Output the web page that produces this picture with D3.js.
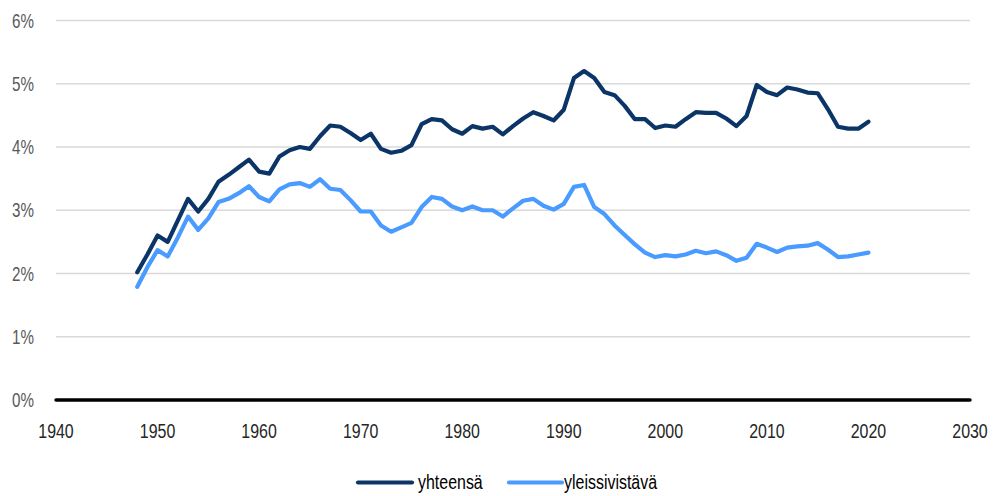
<!DOCTYPE html>
<html><head><meta charset="utf-8">
<script src="https://cdn.jsdelivr.net/npm/d3@7"></script>
<style>
body{margin:0;background:#fff;}
text{font-family:"Liberation Sans",Arial,sans-serif;}
</style></head><body>
<svg id="c" width="994" height="496"></svg>
<script>
const years = d3.range(1948, 2021);
const yhteensa = [2.02,2.30,2.60,2.50,2.84,3.18,2.98,3.18,3.45,3.56,3.68,3.80,3.61,3.58,3.85,3.95,4.00,3.97,4.17,4.34,4.32,4.22,4.11,4.21,3.97,3.91,3.94,4.03,4.36,4.44,4.42,4.28,4.21,4.33,4.29,4.32,4.20,4.33,4.45,4.55,4.49,4.42,4.59,5.09,5.20,5.09,4.87,4.82,4.65,4.44,4.44,4.30,4.34,4.32,4.44,4.55,4.54,4.54,4.45,4.33,4.49,4.98,4.87,4.82,4.94,4.91,4.86,4.85,4.60,4.32,4.29,4.29,4.40];
const yleissivistava = [1.79,2.10,2.37,2.27,2.57,2.90,2.69,2.87,3.13,3.18,3.27,3.38,3.21,3.14,3.33,3.41,3.43,3.37,3.49,3.34,3.32,3.16,2.98,2.98,2.76,2.66,2.73,2.80,3.05,3.21,3.18,3.06,3.00,3.06,3.00,3.00,2.90,3.03,3.15,3.18,3.07,3.01,3.10,3.37,3.40,3.05,2.94,2.76,2.61,2.46,2.33,2.26,2.29,2.27,2.30,2.36,2.32,2.35,2.29,2.20,2.25,2.47,2.41,2.34,2.41,2.43,2.44,2.48,2.38,2.26,2.27,2.30,2.33];
const xTicks = [1940,1950,1960,1970,1980,1990,2000,2010,2020,2030];
const yTicks = [0,1,2,3,4,5,6];
const seriesNames = ["yhteensä","yleissivistävä"];
const colors = ["#0b3467","#4a9bff"];

const svg = d3.select("#c");
const x = d3.scaleLinear().domain([1940,2030]).range([56,970]);
const y = d3.scaleLinear().domain([0,6]).range([400,20.5]);
const SX = 0.76, FS = 21;

svg.append("g").selectAll("line").data(yTicks.filter(d=>d>0)).join("line")
  .attr("x1",56).attr("x2",970).attr("y1",d=>y(d)).attr("y2",d=>y(d))
  .attr("stroke","#d9d9d9").attr("stroke-width",1.3);

svg.append("g").selectAll("text").data(yTicks).join("text")
  .attr("transform",d=>`translate(34,${y(d)}) scale(${SX},1)`).attr("dy","0.35em").attr("text-anchor","end")
  .attr("font-size",FS-1).attr("fill","#595959").text(d=>d+"%");

svg.append("g").selectAll("text").data(xTicks).join("text")
  .attr("transform",d=>`translate(${x(d)},430) scale(${SX},1)`).attr("dy","0.36em").attr("text-anchor","middle")
  .attr("font-size",FS).attr("fill","#262626").text(d=>d);

const line = d3.line().x((d,i)=>x(years[i])).y(d=>y(d));
[yhteensa, yleissivistava].forEach((s,k)=>{
  svg.append("path").datum(s).attr("d",line).attr("fill","none")
    .attr("stroke",colors[k]).attr("stroke-width",4.2).attr("stroke-linejoin","round").attr("stroke-linecap","round");
});

svg.append("line").attr("x1",56).attr("x2",970).attr("y1",y(0)).attr("y2",y(0))
  .attr("stroke","#000").attr("stroke-width",3.5).attr("stroke-linecap","round");

const leg = [{x1:358,x2:412,tx:418},{x1:509,x2:562,tx:564}];
leg.forEach((l,k)=>{
  svg.append("line").attr("x1",l.x1).attr("x2",l.x2).attr("y1",482.5).attr("y2",482.5)
    .attr("stroke",colors[k]).attr("stroke-width",4.2).attr("stroke-linecap","round");
  svg.append("text").attr("transform",`translate(${l.tx},481.5) scale(${SX},1)`).attr("dy","0.36em").attr("font-size",FS)
    .attr("fill","#000").text(seriesNames[k]);
});
</script></body></html>
